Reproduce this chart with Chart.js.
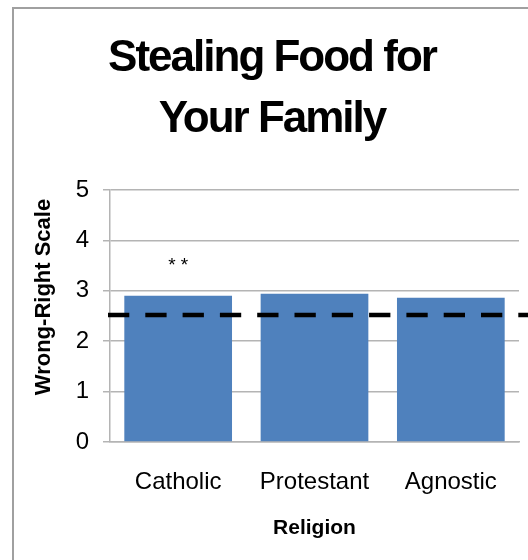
<!DOCTYPE html>
<html>
<head>
<meta charset="utf-8">
<script src="https://cdn.jsdelivr.net/npm/chart.js@4/dist/chart.umd.min.js"></script>
<style>
  html, body { margin: 0; padding: 0; background: #fff; overflow: hidden; }
  #grafico { display: block; }
</style>
</head>
<body>
<canvas id="grafico" width="528" height="560"></canvas>
<script>
// Dados
const religioes = ['Catholic', 'Protestant', 'Agnostic'];
const medias = [2.90, 2.94, 2.86];
const pontoMedio = 2.52;              // linha tracejada (meio da escala)
const marcas = ['**', '', ''];        // significância
const alturaMarcas = [3.39, null, null];
const ticksY = [0, 1, 2, 3, 4, 5];
const tituloLinhas = ['Stealing Food for', 'Your Family'];
const tituloY = 'Wrong-Right Scale';

const FONTE = '"Liberation Sans", Arial, sans-serif';
const CINZA = '#b4b4b4';
Chart.defaults.font.family = FONTE;

// Moldura cinza (só esquerda e topo aparecem no recorte)
const moldura = {
    id: 'moldura',
    beforeDraw(c) {
        const ctx = c.ctx;
        ctx.save();
        ctx.fillStyle = '#fff';
        ctx.fillRect(0, 0, c.width, c.height);
        ctx.strokeStyle = '#a0a0a0';
        ctx.lineWidth = 2;
        ctx.beginPath();
        ctx.moveTo(13, c.height);
        ctx.lineTo(13, 8);
        ctx.lineTo(c.width, 8);
        ctx.stroke();
        ctx.restore();
    }
};

// Títulos (principal com espaçamento apertado + eixo Y deslocado para cima)
const titulo = {
    id: 'titulo',
    afterDraw(c) {
        const ctx = c.ctx;
        ctx.save();
        ctx.font = 'bold 44px ' + FONTE;
        ctx.letterSpacing = '-2px';
        ctx.fillStyle = '#000';
        ctx.textAlign = 'center';
        ctx.textBaseline = 'alphabetic';
        tituloLinhas.forEach((t, i) => ctx.fillText(t, 272, 71 + i * 61));

        ctx.letterSpacing = '0px';
        ctx.font = 'bold 22px ' + FONTE;
        ctx.textBaseline = 'middle';
        ctx.translate(44, 297);
        ctx.rotate(-Math.PI / 2);
        ctx.fillText(tituloY, 0, 0);
        ctx.restore();
    }
};

// Linha tracejada + asteriscos
const linhaMedia = {
    id: 'linhaMedia',
    afterDatasetsDraw(c) {
        const ctx = c.ctx;
        const y = c.scales.y.getPixelForValue(pontoMedio);
        ctx.save();
        ctx.strokeStyle = '#000';
        ctx.lineWidth = 4.5;
        ctx.setLineDash([21.3, 16]);
        ctx.beginPath();
        ctx.moveTo(c.chartArea.left - 2, y);
        ctx.lineTo(c.width, y);
        ctx.stroke();

        ctx.setLineDash([]);
        ctx.font = '19px ' + FONTE;
        ctx.letterSpacing = '5px';
        ctx.textAlign = 'center';
        ctx.fillStyle = '#000';
        marcas.forEach((m, i) => {
            if (!m) return;
            ctx.fillText(m, c.scales.x.getPixelForValue(i) + 2.5, c.scales.y.getPixelForValue(alturaMarcas[i]));
        });
        ctx.restore();
    }
};

new Chart(document.getElementById('grafico'), {
    type: 'bar',
    data: {
        labels: religioes,
        datasets: [{
            data: medias,
            backgroundColor: '#4F81BD',
            borderWidth: 0,
            barPercentage: 0.79,
            categoryPercentage: 1.0
        }]
    },
    options: {
        responsive: false,
        animation: false,
        layout: { padding: { top: 190, right: 9, bottom: 0, left: 0 } },
        plugins: { legend: { display: false }, tooltip: { enabled: false } },
        scales: {
            x: {
                grid: { display: false, drawTicks: false },
                border: { display: true, color: CINZA, width: 1.5 },
                ticks: { color: '#000', font: { size: 24 }, padding: 26 },
                title: {
                    display: true, text: 'Religion', color: '#000',
                    font: { size: 21, weight: 'bold' },
                    padding: { top: 0, bottom: 19 }
                },
                afterFit: s => { s.height = 118; }
            },
            y: {
                min: 0,
                max: 5,
                afterBuildTicks: s => { s.ticks = ticksY.map(v => ({ value: v })); },
                ticks: { color: '#000', font: { size: 24 }, padding: 14 },
                grid: { color: CINZA, lineWidth: 1.5, tickLength: 7 },
                border: { color: CINZA, width: 1.5 },
                title: { display: false },
                afterFit: s => { s.width = 110; }
            }
        }
    },
    plugins: [moldura, titulo, linhaMedia]
});
</script>
</body>
</html>
